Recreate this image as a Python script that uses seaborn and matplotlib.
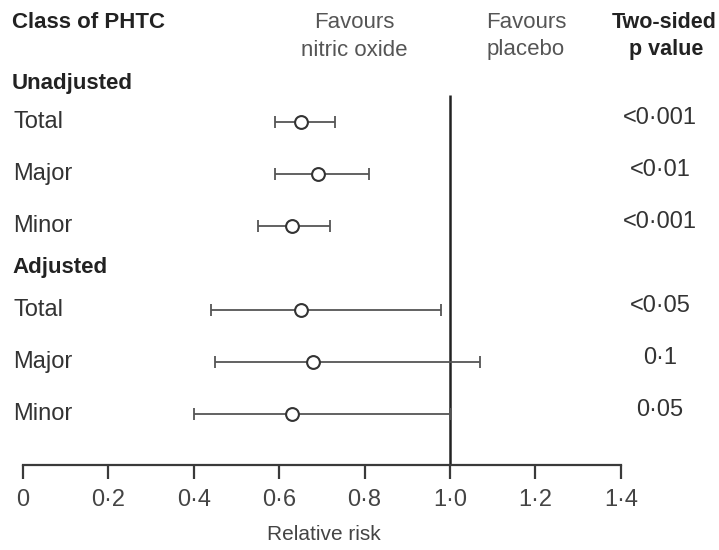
import matplotlib
matplotlib.use("Agg")
import matplotlib.pyplot as plt
import seaborn as sns
import pandas as pd
import numpy as np

# Relative risk of post-hypoxic/ischaemic complications (PHTC), nitric oxide vs placebo
groups = ["Unadjusted", "Unadjusted", "Unadjusted", "Adjusted", "Adjusted", "Adjusted"]
classes = ["Total", "Major", "Minor", "Total", "Major", "Minor"]
rr = [0.65, 0.69, 0.63, 0.65, 0.68, 0.63]
ci_low = [0.59, 0.59, 0.55, 0.44, 0.45, 0.40]
ci_high = [0.73, 0.81, 0.72, 0.98, 1.07, 1.00]
p_values = ["<0·001", "<0·01", "<0·001", "<0·05", "0·1", "0·05"]
tick_values = [0, 0.2, 0.4, 0.6, 0.8, 1.0, 1.2, 1.4]
tick_labels = ["0", "0·2", "0·4", "0·6", "0·8", "1·0", "1·2", "1·4"]

# vertical layout of rows (in pixels from the top of the figure)
row_y = [122, 174, 226, 310, 362, 414]
group_y = {"Unadjusted": 84, "Adjusted": 268}

W, H = 719, 550
sns.set_theme(style="white")
plt.rcParams["font.family"] = ["Liberation Sans", "DejaVu Sans"]

df = pd.DataFrame({"group": groups, "cls": classes, "rr": rr,
                   "lo": ci_low, "hi": ci_high, "p": p_values, "y": row_y})

fig = plt.figure(figsize=(W / 100, H / 100), dpi=100)
fig.patch.set_facecolor("white")

scale = 427.0        # pixels per unit of relative risk
x0_px = 23.0         # pixel position of RR = 0
left_px, right_px = 16.0, 632.0
axis_px = 465.0
ax = fig.add_axes([left_px / W, 1 - axis_px / H, (right_px - left_px) / W, axis_px / H])
ax.set_xlim((left_px - x0_px) / scale, (right_px - x0_px) / scale)
ax.set_ylim(axis_px, 0)

line_col = "#3a3a3a"
text_col = "#333333"
head_col = "#555555"

# confidence intervals with end caps
ax.errorbar(df["rr"], df["y"], xerr=[df["rr"] - df["lo"], df["hi"] - df["rr"]],
            fmt="none", ecolor="#555555", elinewidth=1.3, capsize=4.5, capthick=1.3, zorder=2)
# point estimates as open circles
sns.scatterplot(data=df, x="rr", y="y", ax=ax, s=85, marker="o", facecolor="white",
                edgecolor="#333333", linewidth=1.5, zorder=3, legend=False)

# line of no effect
ax.plot([1.0, 1.0], [95, axis_px], color="#222222", lw=1.8, zorder=1, solid_capstyle="butt")

# x axis
for s in ["top", "right", "left"]:
    ax.spines[s].set_visible(False)
ax.spines["bottom"].set_bounds(0, 1.4)
ax.spines["bottom"].set_color(line_col)
ax.spines["bottom"].set_linewidth(1.6)
ax.set_xticks(tick_values)
ax.set_xticklabels(tick_labels)
ax.set_yticks([])
ax.tick_params(axis="x", direction="out", length=10, width=1.6, color=line_col,
               labelsize=17, labelcolor="#444444", pad=7, bottom=True)
ax.set_xlabel("Relative risk", fontsize=15, color="#444444", labelpad=10)
ax.set_ylabel("")
ax.grid(False)


def ftext(px, py, s, **kw):
    fig.text(px / W, 1 - py / H, s, **kw)


# column headers
ftext(12, 22, "Class of PHTC", fontsize=16, fontweight="bold", color="#222222",
      ha="left", va="center")
ftext(354, 22, "Favours", fontsize=16, color=head_col, ha="center", va="center")
ftext(354, 50, "nitric oxide", fontsize=16, color=head_col, ha="center", va="center")
ftext(526, 22, "Favours", fontsize=16, color=head_col, ha="center", va="center")
ftext(526, 50, "placebo", fontsize=16, color=head_col, ha="center", va="center")
ftext(664, 22, "Two-sided", fontsize=15.5, fontweight="bold", color="#222222",
      ha="center", va="center")
ftext(666, 50, "p value", fontsize=15.5, fontweight="bold", color="#222222",
      ha="center", va="center")

# group headings, row labels and p values
for g, gy in group_y.items():
    ftext(12, gy, g, fontsize=16, fontweight="bold", color="#222222", ha="left", va="center")
for _, r in df.iterrows():
    ftext(13, r["y"], r["cls"], fontsize=17, color=text_col, ha="left", va="center")
    ftext(660, r["y"] - 4, r["p"], fontsize=17, color=text_col, ha="center", va="center")

fig.savefig("out.png", dpi=100, facecolor="white")
